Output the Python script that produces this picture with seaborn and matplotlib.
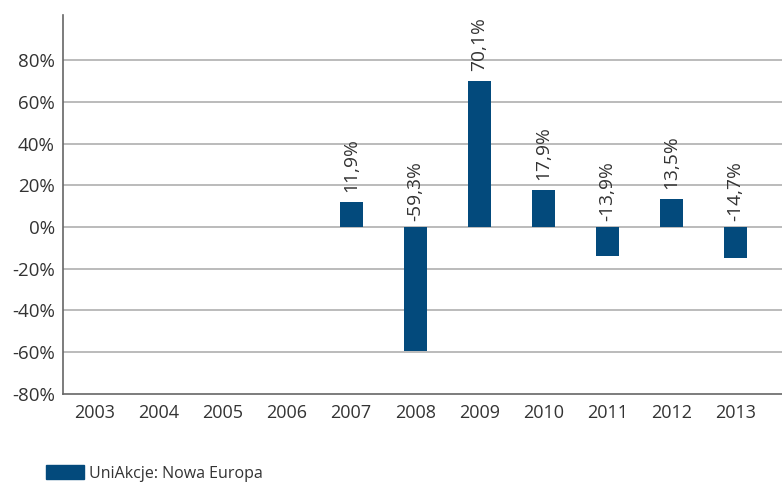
import numpy as np
import pandas as pd
import matplotlib
matplotlib.use("Agg")
import matplotlib.pyplot as plt
import seaborn as sns
from matplotlib.patches import Patch

years = ["2003", "2004", "2005", "2006", "2007", "2008", "2009", "2010", "2011", "2012", "2013"]
returns = [np.nan, np.nan, np.nan, np.nan, 11.9, -59.3, 70.1, 17.9, -13.9, 13.5, -14.7]
series_name = "UniAkcje: Nowa Europa"
bar_color = "#034a7c"
text_color = "#333333"

df = pd.DataFrame({"year": years, "ret": returns})

sns.set_style("white")
plt.rcParams["font.family"] = ["Open Sans", "DejaVu Sans"]

fig = plt.figure(figsize=(7.82, 4.9), dpi=100)
ax = fig.add_axes([0.0806, 0.196, 0.9194, 0.773])

sns.barplot(data=df, x="year", y="ret", color=bar_color, width=0.36,
            saturation=1, linewidth=0, ax=ax, zorder=3)

ax.set_ylim(-80, 101.5)
ax.set_xlim(-0.5, 10.73)
ax.set_yticks(range(-80, 81, 20))
ax.set_yticklabels([f"{v}%" for v in range(-80, 81, 20)])
for v in range(-60, 81, 20):
    ax.axhline(v, color="#a8a8a8", lw=1.1, zorder=1)

ax.set_xticks(np.arange(len(years)))
ax.set_xticklabels(years)
ax.set_xticks(np.arange(len(years)) + 0.5, minor=True)
ax.tick_params(axis="x", which="major", length=0, pad=7, labelsize=13, labelcolor=text_color)
ax.tick_params(axis="x", which="minor", length=5, width=1, color="#555555", direction="out")
ax.tick_params(axis="y", length=4, width=1, color="#555555", direction="out",
               labelsize=13.5, labelcolor=text_color, pad=2)
ax.set_xlabel("")
ax.set_ylabel("")

for s in ["top", "right"]:
    ax.spines[s].set_visible(False)
for s in ["left", "bottom"]:
    ax.spines[s].set_color("#666666")
    ax.spines[s].set_linewidth(1.2)

for i, v in enumerate(returns):
    if np.isnan(v):
        continue
    base = max(v, 0)
    off = 7 if v > 0 else 4
    ax.annotate(f"{v:.1f}%".replace(".", ","), (i, base), xytext=(0, off),
                textcoords="offset points", rotation=90, ha="center", va="bottom",
                fontsize=13.8, color=text_color)

fig.legend(handles=[Patch(color=bar_color)], labels=[series_name],
           loc="lower left", bbox_to_anchor=(0.04, -0.012), frameon=False,
           fontsize=11.5, handlelength=2.4, handleheight=0.9, handletextpad=0.3,
           labelcolor=text_color)

fig.savefig("out.png", dpi=100)
